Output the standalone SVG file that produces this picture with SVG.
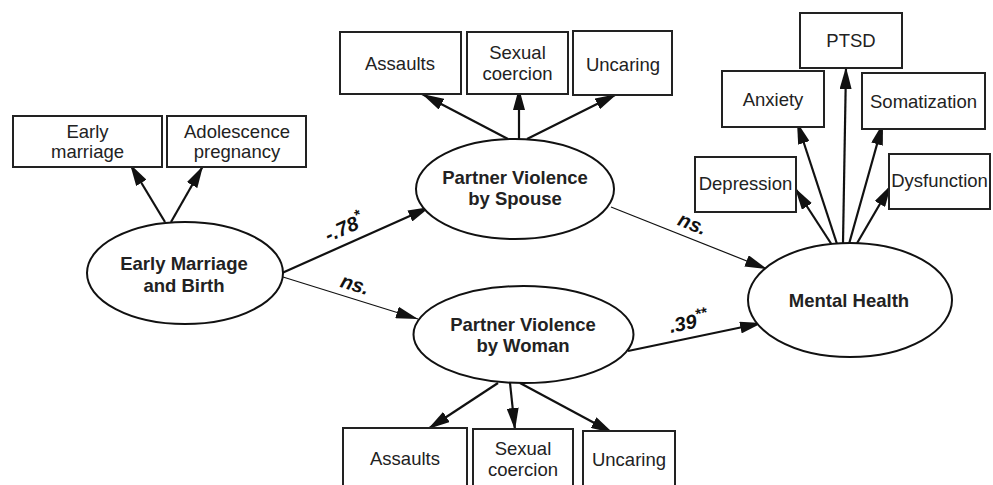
<svg xmlns="http://www.w3.org/2000/svg" width="993" height="485" viewBox="0 0 993 485">
<defs>
<marker id="ah" markerWidth="22" markerHeight="12" refX="22" refY="6" orient="auto" markerUnits="userSpaceOnUse">
<path d="M0,0 L22,6 L0,12 z" fill="#111"/>
</marker>
<style>
.box{fill:#fff;stroke:#222;stroke-width:2}
.ell{fill:#fff;stroke:#111;stroke-width:2}
.bt{font-family:"Liberation Sans",Arial,sans-serif;font-size:18.5px;fill:#222;text-anchor:middle}
.lt{font-family:"Liberation Sans",Arial,sans-serif;font-size:18.5px;font-weight:bold;fill:#222;text-anchor:middle}
.lab{font-family:"Liberation Sans",Arial,sans-serif;font-size:20px;font-weight:bold;font-style:italic;fill:#111;text-anchor:middle}
.thick{stroke:#111;stroke-width:2.2;fill:none;marker-end:url(#ah)}
.thin{stroke:#111;stroke-width:1.2;fill:none;marker-end:url(#ah)}
</style>
</defs>
<rect width="993" height="485" fill="#fff"/>

<g id="connectors">
<line class="thick" x1="165" y1="222" x2="130" y2="164"/>
<line class="thick" x1="171" y1="222" x2="203" y2="166"/>
<line class="thick" x1="508" y1="139" x2="422" y2="94"/>
<line class="thick" x1="519" y1="139" x2="519" y2="88"/>
<line class="thick" x1="527" y1="139" x2="617" y2="94"/>
<line class="thick" x1="498" y1="383" x2="428" y2="429"/>
<line class="thick" x1="510" y1="383" x2="515" y2="430"/>
<line class="thick" x1="520" y1="383" x2="613" y2="433"/>
<line class="thick" x1="832" y1="245" x2="795" y2="188"/>
<line class="thick" x1="837" y1="244" x2="797" y2="122"/>
<line class="thick" x1="843" y1="243" x2="846" y2="67"/>
<line class="thick" x1="849" y1="244" x2="883" y2="123"/>
<line class="thick" x1="856" y1="245" x2="891" y2="185"/>
<line class="thick" x1="282" y1="273" x2="430" y2="207"/>
<line class="thin" x1="283" y1="277" x2="418" y2="319"/>
<line class="thin" x1="611" y1="207" x2="767" y2="269"/>
<line class="thick" x1="628" y1="351" x2="762" y2="323"/>
<text class="lab" x="347" y="234" transform="rotate(-24 347 234)">-.78<tspan dy="-8" font-size="15">*</tspan></text>
<text class="lab" x="353" y="291" transform="rotate(17 353 291)">ns.</text>
<text class="lab" x="690" y="230" transform="rotate(22 690 230)">ns.</text>
<text class="lab" x="690" y="329" transform="rotate(-12 690 329)">.39<tspan dy="-8" font-size="15">**</tspan></text>
</g>

<g id="early-marriage-birth">
<ellipse class="ell" cx="185" cy="273" rx="98" ry="51"/>
<text class="lt" x="184" y="270">Early Marriage</text>
<text class="lt" x="184" y="292">and Birth</text>
</g>
<g id="early-marriage">
<rect class="box" x="13" y="116" width="149" height="51"/>
<text class="bt" x="87.5" y="138">Early</text>
<text class="bt" x="87.5" y="158">marriage</text>
</g>
<g id="adolescence-pregnancy">
<rect class="box" x="167" y="116" width="139" height="51"/>
<text class="bt" x="237" y="138">Adolescence</text>
<text class="bt" x="237" y="158">pregnancy</text>
</g>

<g id="pv-spouse">
<ellipse class="ell" cx="515" cy="189" rx="99" ry="50"/>
<text class="lt" x="515" y="184">Partner Violence</text>
<text class="lt" x="515" y="205">by Spouse</text>
</g>
<g id="assaults-spouse">
<rect class="box" x="340" y="32" width="121" height="62"/>
<text class="bt" x="400" y="70">Assaults</text>
</g>
<g id="sexual-spouse">
<rect class="box" x="467" y="32" width="101" height="62"/>
<text class="bt" x="517.5" y="59">Sexual</text>
<text class="bt" x="517.5" y="80">coercion</text>
</g>
<g id="uncaring-spouse">
<rect class="box" x="573" y="31" width="99" height="64"/>
<text class="bt" x="623" y="71">Uncaring</text>
</g>

<g id="pv-woman">
<ellipse class="ell" cx="523.5" cy="334.5" rx="110" ry="48.5"/>
<text class="lt" x="523" y="331">Partner Violence</text>
<text class="lt" x="523" y="352">by Woman</text>
</g>
<g id="assaults-woman">
<rect class="box" x="343" y="428" width="124" height="70"/>
<text class="bt" x="405" y="465">Assaults</text>
</g>
<g id="sexual-woman">
<rect class="box" x="473" y="429" width="100" height="70"/>
<text class="bt" x="523" y="455">Sexual</text>
<text class="bt" x="523" y="476">coercion</text>
</g>
<g id="uncaring-woman">
<rect class="box" x="583" y="431" width="92" height="70"/>
<text class="bt" x="629" y="466">Uncaring</text>
</g>

<g id="mental-health">
<ellipse class="ell" cx="850" cy="300" rx="102" ry="57"/>
<text class="lt" x="849" y="307">Mental Health</text>
</g>
<g id="ptsd">
<rect class="box" x="800" y="13" width="102" height="55"/>
<text class="bt" x="851" y="47">PTSD</text>
</g>
<g id="anxiety">
<rect class="box" x="722" y="71" width="102" height="56"/>
<text class="bt" x="773" y="106">Anxiety</text>
</g>
<g id="somatization">
<rect class="box" x="862" y="73" width="123" height="56"/>
<text class="bt" x="923.5" y="108">Somatization</text>
</g>
<g id="depression">
<rect class="box" x="695" y="157" width="101" height="55"/>
<text class="bt" x="745.5" y="190">Depression</text>
</g>
<g id="dysfunction">
<rect class="box" x="889" y="154" width="101" height="55"/>
<text class="bt" x="939.5" y="187">Dysfunction</text>
</g>
</svg>
